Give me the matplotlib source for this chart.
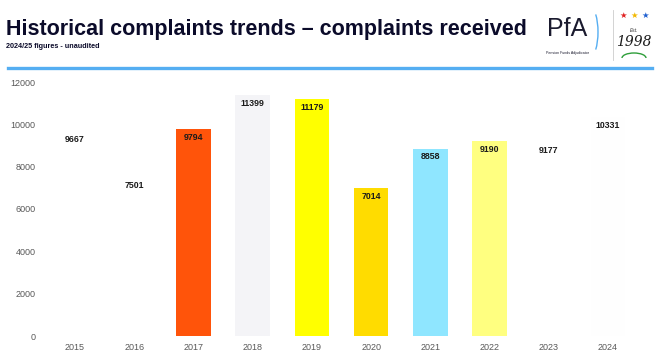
import matplotlib
matplotlib.use("Agg")
import matplotlib.pyplot as plt
from matplotlib.patches import Arc

plt.rcParams['font.family'] = ['Liberation Sans', 'DejaVu Sans']

years = ['2015', '2016', '2017', '2018', '2019', '2020', '2021', '2022', '2023', '2024']
complaints = [9667, 7501, 9794, 11399, 11179, 7014, 8858, 9190, 9177, 10331]
colours = ['#FFFFFF', '#FFFFFF', '#FF540A', '#F4F4F7', '#FFFF00', '#FFDC00',
           '#8FE6FF', '#FFFF80', '#FFFFFF', '#FEFEFE']
yticks = [0, 2000, 4000, 6000, 8000, 10000, 12000]

W, H = 660, 359
fig = plt.figure(figsize=(W / 100, H / 100), dpi=100)

# header
fig.text(6 / W, 1 - 30 / H, 'Historical complaints trends \u2013 complaints received',
         fontsize=15.5, fontweight='bold', color='#0B0B2A', va='center', ha='left')
fig.text(6 / W, 1 - 46 / H, '2024/25 figures - unaudited',
         fontsize=5.2, fontweight='bold', color='#0B0B2A', va='center', ha='left')
fig.add_artist(plt.Line2D([8 / W, 652 / W], [1 - 68 / H, 1 - 68 / H],
                          color='#55AEF2', lw=2.4, transform=fig.transFigure))

# logos
fig.text(567 / W, 1 - 29 / H, 'PfA', fontsize=18, color='#1A1A2E',
         va='center', ha='center')
fig.text(567 / W, 1 - 53 / H, 'Pension Funds Adjudicator', fontsize=2.6,
         color='#1A1A2E', va='center', ha='center')
fig.add_artist(Arc((590 / W, 1 - 32 / H), 16 / W, 50 / H, theta1=-80, theta2=80,
                   color='#55AEF2', lw=1, transform=fig.transFigure))
fig.add_artist(plt.Line2D([613 / W, 613 / W], [1 - 10 / H, 1 - 60 / H],
                          color='#CCCCCC', lw=0.6, transform=fig.transFigure))
fig.text(634 / W, 1 - 30 / H, 'Est.', fontsize=3.5, style='italic', color='#333333',
         va='center', ha='center')
fig.text(634 / W, 1 - 42 / H, '1998', fontsize=10, style='italic', color='#1A1A1A',
         family=['DejaVu Serif'], va='center', ha='center')
fig.add_artist(Arc((634 / W, 1 - 58 / H), 24 / W, 10 / H, theta1=0, theta2=180,
                   color='#2E9E3A', lw=1, transform=fig.transFigure))
for dx, c in [(-11, '#E02020'), (0, '#F2B800'), (11, '#1E5FD0')]:
    fig.text((634 + dx) / W, 1 - 16 / H, '\u2605', fontsize=6, color=c,
             va='center', ha='center')

# chart
ax = fig.add_axes([45.4 / W, 23 / H, 592.2 / W, 254 / H])
x = range(len(years))
ax.bar(x, complaints, width=0.58, color=colours)
for i, v in enumerate(complaints):
    ax.text(i, v - 400, str(v), ha='center', va='center', fontsize=6.3,
            fontweight='bold', color='#1A1A1A')
ax.set_xlim(-0.5, len(years) - 0.5)
ax.set_ylim(0, 12000)
ax.set_xticks(list(x))
ax.set_xticklabels(years)
ax.set_yticks(yticks)
ax.tick_params(length=0, labelsize=6.5, labelcolor='#595959')
ax.tick_params(axis='y', pad=7)
ax.tick_params(axis='x', pad=5)
for s in ax.spines.values():
    s.set_visible(False)

fig.savefig('out.png', dpi=100)
